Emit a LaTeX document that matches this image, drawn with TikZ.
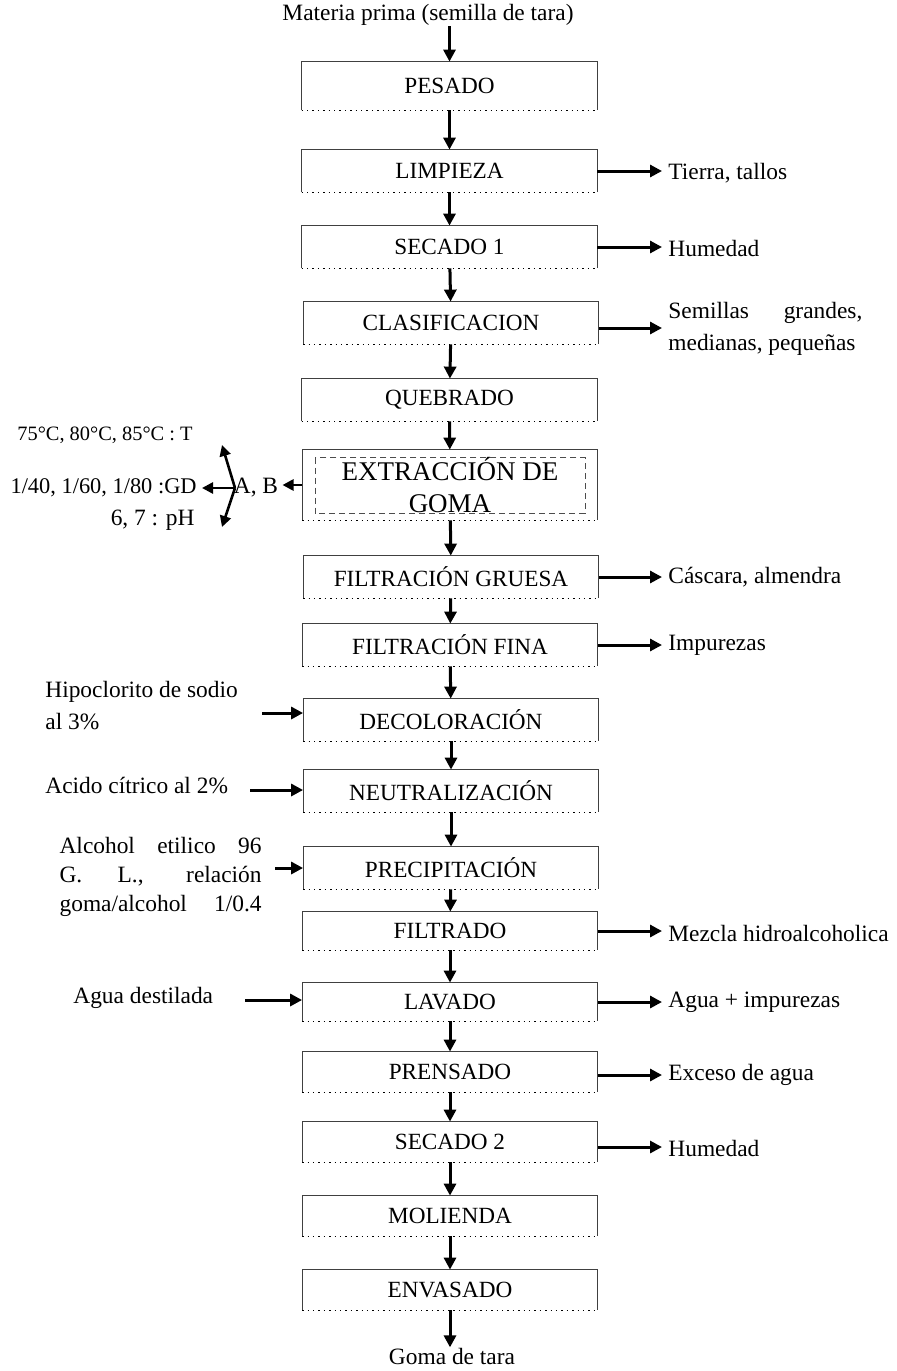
\documentclass[tikz,border=0pt]{standalone}
\usepackage{fontspec}
\setmainfont{Liberation Serif}
\usetikzlibrary{arrows.meta,calc}
\begin{document}
\begin{tikzpicture}[x=0.5pt,y=-0.5pt,
  proc/.style={minimum width=147.5pt,minimum height=21pt,inner sep=0pt,font=\fontsize{11.6}{14}\selectfont},
  lbl/.style={font=\fontsize{11.7}{14}\selectfont,inner sep=0pt},
  arr/.style={line width=1.5pt,-{Triangle[length=6pt,width=6pt]}},
  side/.style={arr,shorten >=3pt},
  thinarr/.style={line width=1.3pt,-{Triangle[length=5.5pt,width=5.5pt]}},
]
\useasboundingbox (0,0) rectangle (897,1371);

% title and end
\node[lbl] (title) at (428,15) {Materia prima (semilla de tara)};
\node[lbl] (goma) at (452,1356) {Goma de tara};

% process boxes
\node[proc,minimum height=24pt] (pes) at (449.5,86) {PESADO};
\node[proc] (lim) at (449.5,171) {LIMPIEZA};
\node[proc] (se1) at (449.5,247) {SECADO 1};
\node[proc] (cla) at (451,323) {CLASIFICACION};
\node[proc] (que) at (449.5,400) {QUEBRADO};
\node[proc,minimum height=35pt,align=center,font=\fontsize{13.5}{16}\selectfont] (ext) at (450,485) {EXTRACCIÓN DE\\GOMA};
\node[proc] (fgr) at (451,577) {FILTRACIÓN GRUESA};
\node[proc] (ffi) at (450,645) {FILTRACIÓN FINA};
\node[proc] (dec) at (451,720) {DECOLORACIÓN};
\node[proc] (neu) at (451,791) {NEUTRALIZACIÓN};
\node[proc] (pre) at (451,868) {PRECIPITACIÓN};
\node[proc,minimum height=19pt] (fil) at (450,931) {FILTRADO};
\node[proc,minimum height=19pt] (lav) at (450,1002) {LAVADO};
\node[proc,minimum height=20pt] (prn) at (450,1072) {PRENSADO};
\node[proc,minimum height=20pt] (se2) at (450,1142) {SECADO 2};
\node[proc,minimum height=20pt] (mol) at (450,1216) {MOLIENDA};
\node[proc,minimum height=20pt] (env) at (450,1290) {ENVASADO};

% box borders: solid top and sides, dotted bottom
\foreach \n in {pes,lim,se1,cla,que,ext,fgr,ffi,dec,neu,pre,fil,lav,prn,se2,mol,env}{
  \draw[line width=0.5pt,black!75] (\n.south west) -- (\n.north west) -- (\n.north east) -- (\n.south east);
  \draw[line width=0.7pt,dotted] (\n.south west) -- (\n.south east);
}
\draw[densely dashed,line width=0.4pt,black!70] ($(ext.north west)+(13,8)$) rectangle ($(ext.south east)+(-13,-7)$);

% main flow
\draw[arr] (pes.north |- title.south) -- (pes.north);
\draw[arr] (pes) -- (lim);
\draw[arr] (lim) -- (se1);
\draw[arr] (se1) -- (cla);
\draw[arr] (cla) -- (que);
\draw[arr] (que) -- (ext);
\draw[arr] (ext) -- (fgr);
\draw[arr] (fgr) -- (ffi);
\draw[arr] (ffi) -- (dec);
\draw[arr] (dec) -- (neu);
\draw[arr] (neu) -- (pre);
\draw[arr] (pre) -- (fil);
\draw[arr] (fil) -- (lav);
\draw[arr] (lav) -- (prn);
\draw[arr] (prn) -- (se2);
\draw[arr] (se2) -- (mol);
\draw[arr] (mol) -- (env);
\draw[arr] (env.south) -- (env.south |- goma.north);

% outputs (right)
\node[lbl,anchor=west] (o1) at (668,173) {Tierra, tallos};
\node[lbl,anchor=west] (o2) at (668,248) {Humedad};
\node[lbl,anchor=west,align=left,font=\fontsize{11.7}{16}\selectfont] (o3) at (668,329) {\makebox[97pt][s]{Semillas grandes,}\\medianas, pequeñas};
\node[lbl,anchor=west] (o4) at (668,577) {Cáscara, almendra};
\node[lbl,anchor=west] (o5) at (668,645) {Impurezas};
\node[lbl,anchor=west] (o6) at (668,933) {Mezcla hidroalcoholica};
\node[lbl,anchor=west] (o7) at (668,1002) {Agua + impurezas};
\node[lbl,anchor=west] (o8) at (668,1075) {Exceso de agua};
\node[lbl,anchor=west] (o9) at (668,1148) {Humedad};
\draw[side] (lim.east) -- (lim.east -| o1.west);
\draw[side] (se1.east) -- (se1.east -| o2.west);
\draw[side] ($(cla.east)+(0,5)$) -- ($(cla.east -| o3.west)+(0,5)$);
\draw[side] (fgr.east) -- (fgr.east -| o4.west);
\draw[side] (ffi.east) -- (ffi.east -| o5.west);
\draw[side] (fil.east) -- (fil.east -| o6.west);
\draw[side] (lav.east) -- (lav.east -| o7.west);
\draw[side] ($(prn.east)+(0,3)$) -- ($(prn.east -| o8.west)+(0,3)$);
\draw[side] ($(se2.east)+(0,5)$) -- ($(se2.east -| o9.west)+(0,5)$);

% inputs (left)
\node[lbl,anchor=west,align=left,font=\fontsize{11.7}{16}\selectfont] (i1) at (45,706) {Hipoclorito de sodio\\al 3\%};
\node[lbl,anchor=west] (i2) at (45,786) {Acido cítrico al 2\%};
\node[lbl,anchor=east,align=left,font=\fontsize{11.7}{14.5}\selectfont] (i3) at (262,877) {\makebox[101pt][s]{Alcohol etilico 96}\\\makebox[101pt][s]{G. L., relación}\\\makebox[101pt][s]{goma/alcohol 1/0.4}};
\node[lbl,anchor=west] (i4) at (73,998) {Agua destilada};
\coordinate (s1) at (262,713);
\coordinate (s2) at (250,790);
\coordinate (s3) at (275,868);
\coordinate (s4) at (245,1000);
\draw[arr] (s1) -- (s1 -| dec.west);
\draw[arr] (s2) -- (s2 -| neu.west);
\draw[arr] (s3) -- (s3 -| pre.west);
\draw[arr] (s4) -- (s4 -| lav.west);

% extraction parameters
\node[lbl] (ab) at (256,488) {A, B};
\draw[thinarr] (ext.west) -- ($(ext.west -| ab.east)+(4,0)$);
\coordinate (hub) at (235,488);
\coordinate (tT) at (222,445);
\coordinate (tG) at (202,488);
\coordinate (tP) at (222,527);
\draw[thinarr] (hub) -- (tT);
\draw[thinarr] (hub) -- (tG);
\draw[thinarr] (hub) -- (tP);
\node[lbl,anchor=east,font=\fontsize{10.2}{12}\selectfont] (pT) at (193,435) {75°C, 80°C, 85°C : T};
\node[lbl,anchor=east,font=\fontsize{11.2}{13}\selectfont] (pG) at (197,488) {1/40, 1/60, 1/80 :GD};
\node[lbl,anchor=east] (pP) at (195,520) {6, 7 : pH};
\end{tikzpicture}
\end{document}
